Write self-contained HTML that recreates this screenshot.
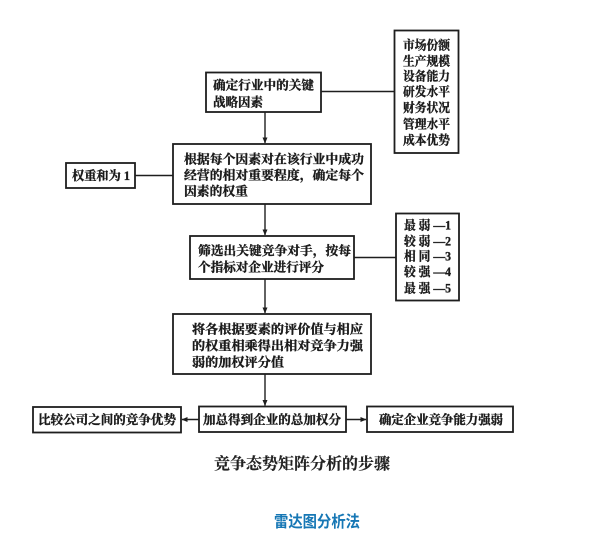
<!DOCTYPE html>
<html>
<head>
<meta charset="utf-8">
<style>
  html,body{margin:0;padding:0;background:#fff;}
  svg{display:block;}
  .t{font-family:"Liberation Serif","Noto Serif CJK SC","Noto Sans CJK SC",serif;font-weight:700;font-size:12.5px;fill:#1a1a1a;stroke:#1a1a1a;stroke-width:0.35;}
  .cap{font-family:"Liberation Serif","Noto Serif CJK SC","Noto Sans CJK SC",serif;font-weight:700;font-size:16px;fill:#222;stroke:#222;stroke-width:0.2;}
  .blue{font-family:"Liberation Sans","Noto Sans CJK SC",sans-serif;font-weight:700;font-size:16px;fill:#1677b5;}
</style>
</head>
<body>
<svg width="615" height="546" viewBox="0 0 615 546" xmlns="http://www.w3.org/2000/svg">
  <defs>
    <marker id="ah" markerWidth="6" markerHeight="6" refX="5.5" refY="3" orient="auto" markerUnits="userSpaceOnUse">
      <path d="M0,0.5 L6,3 L0,5.5 Z" fill="#1e1e1e"/>
    </marker>
  </defs>
  <g fill="none" stroke="#1e1e1e" stroke-width="1.8">
    <rect x="206" y="72.5" width="115" height="39.5"/>
    <rect x="394.5" y="30.5" width="64" height="122.5"/>
    <rect x="173" y="144" width="198" height="60"/>
    <rect x="66" y="163" width="69" height="25"/>
    <rect x="190" y="236" width="164" height="43"/>
    <rect x="396" y="213.5" width="63" height="87"/>
    <rect x="173" y="314" width="198" height="60"/>
    <rect x="33" y="407" width="148" height="25.5"/>
    <rect x="199" y="406.5" width="147" height="25.5"/>
    <rect x="367" y="406.5" width="146" height="25.5"/>
  </g>
  <g stroke="#1e1e1e" stroke-width="1.4" fill="none">
    <line x1="321" y1="91.5" x2="394.5" y2="91.5"/>
    <line x1="135" y1="175.5" x2="173" y2="175.5"/>
    <line x1="354" y1="257.5" x2="396" y2="257.5"/>
    <line x1="265" y1="112" x2="265" y2="143" marker-end="url(#ah)"/>
    <line x1="265" y1="204" x2="265" y2="235" marker-end="url(#ah)"/>
    <line x1="265" y1="279" x2="265" y2="313" marker-end="url(#ah)"/>
    <line x1="265" y1="374" x2="265" y2="405.5" marker-end="url(#ah)"/>
    <line x1="199" y1="419.5" x2="182" y2="419.5" marker-end="url(#ah)"/>
    <line x1="346" y1="419.5" x2="366" y2="419.5" marker-end="url(#ah)"/>
  </g>

  <text class="t" x="213" y="89.5" textLength="101" lengthAdjust="spacingAndGlyphs">确定行业中的关键</text>
  <text class="t" x="213" y="106.5" textLength="50" lengthAdjust="spacingAndGlyphs">战略因素</text>

  <text class="t" x="403" y="49.5" textLength="47" lengthAdjust="spacingAndGlyphs">市场份额</text>
  <text class="t" x="403" y="65.5" textLength="47" lengthAdjust="spacingAndGlyphs">生产规模</text>
  <text class="t" x="403" y="80.5" textLength="47" lengthAdjust="spacingAndGlyphs">设备能力</text>
  <text class="t" x="403" y="96" textLength="47" lengthAdjust="spacingAndGlyphs">研发水平</text>
  <text class="t" x="403" y="112" textLength="47" lengthAdjust="spacingAndGlyphs">财务状况</text>
  <text class="t" x="403" y="128.5" textLength="47" lengthAdjust="spacingAndGlyphs">管理水平</text>
  <text class="t" x="403" y="144.5" textLength="47" lengthAdjust="spacingAndGlyphs">成本优势</text>

  <text class="t" x="184" y="163.5" textLength="180" lengthAdjust="spacingAndGlyphs">根据每个因素对在该行业中成功</text>
  <text class="t" x="184" y="179.5" textLength="180" lengthAdjust="spacingAndGlyphs">经营的相对重要程度，确定每个</text>
  <text class="t" x="184" y="195.5" textLength="64" lengthAdjust="spacingAndGlyphs">因素的权重</text>

  <text class="t" x="72" y="180" textLength="58" lengthAdjust="spacingAndGlyphs">权重和为 1</text>

  <text class="t" x="198" y="255" textLength="153" lengthAdjust="spacingAndGlyphs">筛选出关键竞争对手，按每</text>
  <text class="t" x="198" y="271.5" textLength="126" lengthAdjust="spacingAndGlyphs">个指标对企业进行评分</text>

  <text class="t" x="404" y="229.5" textLength="47" lengthAdjust="spacingAndGlyphs">最 弱 —1</text>
  <text class="t" x="404" y="245.5" textLength="47" lengthAdjust="spacingAndGlyphs">较 弱 —2</text>
  <text class="t" x="404" y="260.5" textLength="47" lengthAdjust="spacingAndGlyphs">相 同 —3</text>
  <text class="t" x="404" y="276" textLength="47" lengthAdjust="spacingAndGlyphs">较 强 —4</text>
  <text class="t" x="404" y="292.5" textLength="47" lengthAdjust="spacingAndGlyphs">最 强 —5</text>

  <text class="t" x="192" y="333.5" textLength="171" lengthAdjust="spacingAndGlyphs">将各根据要素的评价值与相应</text>
  <text class="t" x="192" y="350" textLength="171" lengthAdjust="spacingAndGlyphs">的权重相乘得出相对竞争力强</text>
  <text class="t" x="192" y="366.5" textLength="92" lengthAdjust="spacingAndGlyphs">弱的加权评分值</text>

  <text class="t" x="38" y="424" textLength="138" lengthAdjust="spacingAndGlyphs">比较公司之间的竞争优势</text>
  <text class="t" x="203" y="424" textLength="138" lengthAdjust="spacingAndGlyphs">加总得到企业的总加权分</text>
  <text class="t" x="379" y="424" textLength="124" lengthAdjust="spacingAndGlyphs">确定企业竞争能力强弱</text>

  <text class="cap" x="214" y="469" textLength="176" lengthAdjust="spacingAndGlyphs">竞争态势矩阵分析的步骤</text>

  <text class="blue" x="274" y="527" textLength="86" lengthAdjust="spacingAndGlyphs">雷达图分析法</text>
</svg>
</body>
</html>
